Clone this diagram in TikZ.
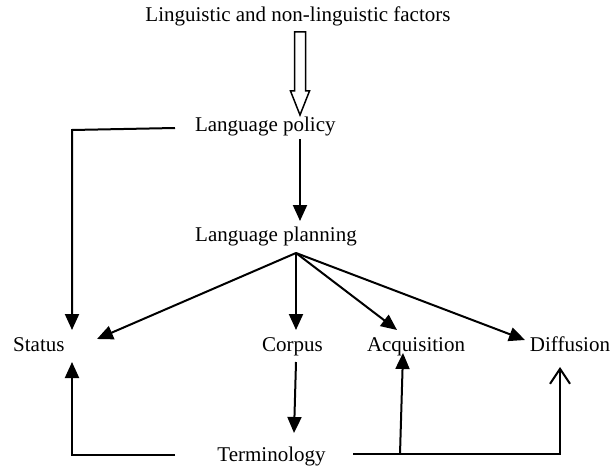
\documentclass[tikz,border=0pt]{standalone}
\usepackage{fontspec}
\setmainfont{Liberation Serif}
\usetikzlibrary{arrows.meta,calc}

\tikzset{
  label text/.style={anchor=base, inner sep=0pt, font=\fontsize{21}{25}\selectfont},
  link/.style={line width=2pt},
  arr/.style={link, -{Triangle[length=16pt,width=14pt]}},
  openarr/.style={link, -{Straight Barb[length=15pt,width=20pt,line width=2pt]}},
  hollow/.style={line width=1.5pt, line join=miter, fill=white}
}

\begin{document}
\begin{tikzpicture}[x=1pt,y=-1pt]
  \useasboundingbox (0,0) rectangle (612,468);

  % labels
  \node[label text] (factors)  at (298,21.5)   {Linguistic and non-linguistic factors};
  \node[label text] (policy)   at (265.3,131.7) {Language policy};
  \node[label text] (planning) at (276,241.7)  {Language planning};
  \node[label text] (status)   at (38.9,351.7) {Status};
  \node[label text] (corpus)   at (292.5,351.7) {Corpus};
  \node[label text] (acq)      at (416,351.7)  {Acquisition};
  \node[label text] (diff)     at (570,351.7)  {Diffusion};
  \node[label text] (term)     at (271.5,461.7) {Terminology};

  % broad hollow arrow from the factors to the policy
  \coordinate (htop) at ($(factors.base)+(2,10.5)$);
  \coordinate (htip) at ($(policy.base)+(34.7,-16.7)$);
  \draw[hollow] ($(htop)+(-5.5,0)$) -- ($(htop)+(5.5,0)$)
     -- ($(htip)+(5.5,-24)$) -- ($(htip)+(9.5,-24)$) -- (htip)
     -- ($(htip)+(-9.5,-24)$) -- ($(htip)+(-5.5,-24)$) -- cycle;

  % policy to planning
  \draw[arr] ($(policy.base)+(34.7,7.3)$) -- ($(planning.base)+(24,-20.7)$);

  % policy straight to status
  \draw[arr] ($(policy.base)+(-90.3,-3.7)$) -- ($(status.base)+(33.1,-221.7)$)
     -- ($(status.base)+(33.1,-21.7)$);

  % planning fans out to the four types
  \coordinate (fan) at ($(planning.base)+(20,11.3)$);
  \draw[arr] (fan) -- ($(status.base)+(58.1,-12.7)$);
  \draw[arr] (fan) -- ($(corpus.base)+(3.5,-21.7)$);
  \draw[arr] (fan) -- ($(acq.base)+(-19,-21.7)$);
  \draw[arr] (fan) -- ($(diff.base)+(-45,-11.7)$);

  % corpus to terminology
  \draw[arr] ($(corpus.base)+(3.5,10.3)$) -- ($(term.base)+(22.5,-28.7)$);

  % terminology feeds back
  \draw[arr] ($(term.base)+(-96.5,-7)$) -| ($(status.base)+(33.1,10.3)$);
  \draw[openarr] ($(term.base)+(81.5,-7.7)$) -| ($(diff.base)+(-10,15.3)$);
  \draw[arr] ($(term.base)+(128.5,-7.7)$) -- ($(acq.base)+(-13,1.3)$);
\end{tikzpicture}
\end{document}
